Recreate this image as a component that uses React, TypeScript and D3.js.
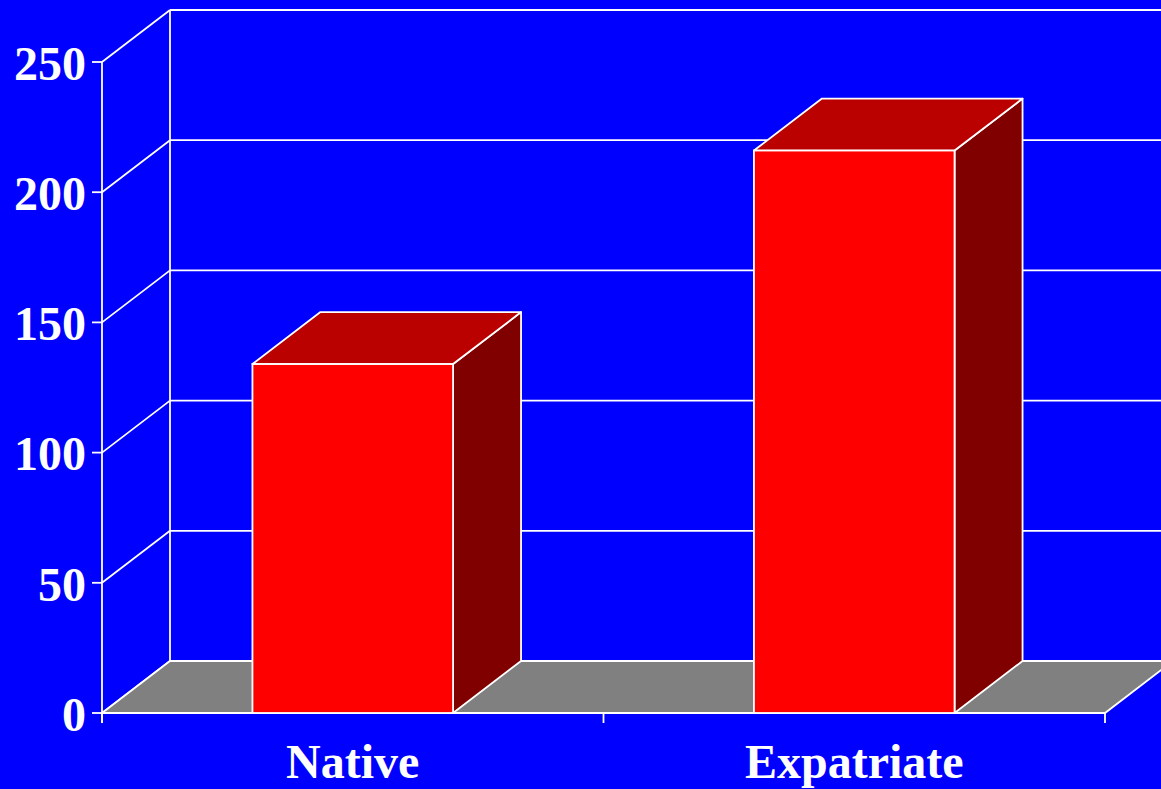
import React from "react";
import * as d3 from "d3";

const categories = ["Native", "Expatriate"];
const values = [134, 216];
const yTicks = [0, 50, 100, 150, 200, 250];

const W = 1161;
const H = 789;
const DX = 68;
const DY = -52;

export default function App() {
  const x = d3.scaleBand<string>().domain(categories).range([102, 1105]).padding(0);
  const y = d3.scaleLinear().domain([0, 250]).range([713, 62]);
  const barFrac = 0.4;
  const bw = x.bandwidth() * barFrac;
  const x0 = 102, x1 = 1105;
  const font = "'Liberation Serif', 'Times New Roman', serif";
  const stroke = "#FFFFFF";
  const sw = 1.8;

  const pts = (arr: [number, number][]) => arr.map((p) => p.join(",")).join(" ");

  return (
    <svg width={W} height={H} style={{ position: "absolute", left: 0, top: 0, display: "block" }}>
      <rect x={0} y={0} width={W} height={H} fill="#0000FF" />
      <line x1={x0 + DX} y1={y(0) + DY} x2={x0 + DX} y2={y(250) + DY} stroke={stroke} strokeWidth={sw} />
      {yTicks.map((t) => (
        <g key={t}>
          <line x1={x0 + DX} y1={y(t) + DY} x2={x1 + DX} y2={y(t) + DY} stroke={stroke} strokeWidth={sw} />
          <line x1={x0} y1={y(t)} x2={x0 + DX} y2={y(t) + DY} stroke={stroke} strokeWidth={sw} />
          <line x1={x0 - 10} y1={y(t)} x2={x0} y2={y(t)} stroke={stroke} strokeWidth={sw} />
          <text x={x0 - 16} y={y(t)} dy="0.37em" textAnchor="end" fill="#FFFFFF" fontFamily={font} fontWeight="bold" fontSize={48}>
            {t}
          </text>
        </g>
      ))}
      <polygon
        points={pts([[x0, y(0)], [x1, y(0)], [x1 + DX, y(0) + DY], [x0 + DX, y(0) + DY]])}
        fill="#808080"
        stroke={stroke}
        strokeWidth={sw}
      />
      <line x1={x0} y1={y(250)} x2={x0} y2={y(0) + 10} stroke={stroke} strokeWidth={sw} />
      <line x1={x0} y1={y(0)} x2={x1} y2={y(0)} stroke={stroke} strokeWidth={sw} />
      {[x0, x0 + x.step(), x1].map((xx, i) => (
        <line key={i} x1={xx} y1={y(0)} x2={xx} y2={y(0) + 10} stroke={stroke} strokeWidth={sw} />
      ))}
      {categories.map((c, i) => {
        const cx = (x(c) as number) + x.bandwidth() / 2;
        const l = cx - bw / 2;
        const r = cx + bw / 2;
        const top = y(values[i]);
        const bot = y(0);
        return (
          <g key={c}>
            <polygon points={pts([[r, bot], [r + DX, bot + DY], [r + DX, top + DY], [r, top]])} fill="#800000" stroke={stroke} strokeWidth={sw} strokeLinejoin="round" />
            <polygon points={pts([[l, top], [r, top], [r + DX, top + DY], [l + DX, top + DY]])} fill="#BB0000" stroke={stroke} strokeWidth={sw} strokeLinejoin="round" />
            <rect x={l} y={top} width={bw} height={bot - top} fill="#FF0000" stroke={stroke} strokeWidth={sw} />
            <text x={cx} y={778} textAnchor="middle" fill="#FFFFFF" fontFamily={font} fontWeight="bold" fontSize={48}>
              {c}
            </text>
          </g>
        );
      })}
    </svg>
  );
}
